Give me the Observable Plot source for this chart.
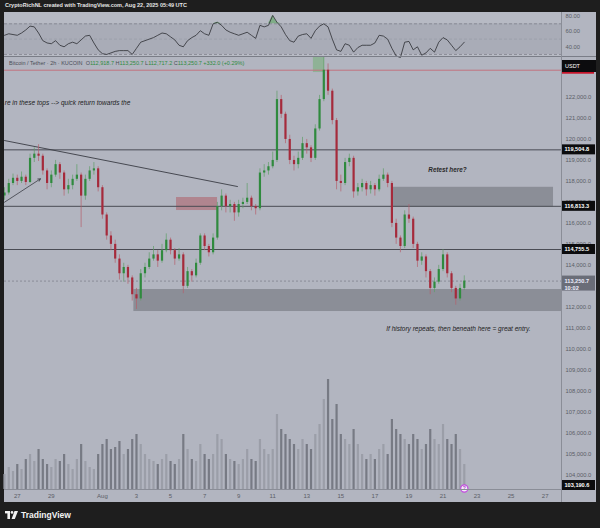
<!DOCTYPE html>
<html><head><meta charset="utf-8">
<script src="https://cdn.jsdelivr.net/npm/d3@7"></script>
<script src="https://cdn.jsdelivr.net/npm/@observablehq/plot@0.6"></script>
<style>
body{margin:0;background:#1e1e1e;width:600px;height:528px;overflow:hidden;font-family:"Liberation Sans","DejaVu Sans",sans-serif;}
#wrap{position:relative;width:600px;height:528px;}
.abs{position:absolute;}
.ln{position:absolute;background:#8a8d97;}
</style></head><body><div id="wrap">
<div class="abs" style="left:5px;top:2px;color:#e6e6e6;font-size:5.5px;font-weight:bold;white-space:nowrap">CryptoRichNL created with TradingView.com, Aug 22, 2025 05:49 UTC</div>
<div class="abs" style="left:4px;top:12px;width:592px;height:490px;background:#b2b5c0"></div>
<div id="rsi" class="abs" style="left:4px;top:12px"></div>
<div id="main" class="abs" style="left:4px;top:57px"></div>
<div id="vol" class="abs" style="left:4px;top:369px"></div>
<div class="ln" style="left:4px;top:56px;width:592px;height:1px;background:#7a7d87"></div>
<div class="ln" style="left:561px;top:12px;width:1px;height:490px"></div>
<div class="ln" style="left:4px;top:489px;width:557px;height:1px"></div>
<div class="abs" id="legend" style="left:9px;top:60px;font-size:5.5px;color:#4a4d56;white-space:nowrap"></div>
<div class="abs" style="left:5px;top:510px;display:flex;align-items:center;gap:3px;color:#f2f2f2;font-weight:bold;font-size:8.5px">
<svg width="13" height="8" viewBox="0 0 13 8"><rect x="0" y="0" width="5" height="2.4" fill="#f2f2f2"/><rect x="2.4" y="0" width="2.6" height="8" fill="#f2f2f2"/><circle cx="7" cy="1.4" r="1.3" fill="#f2f2f2"/><path d="M9.5 0 L13 0 L9.8 8 L6.6 8 Z" fill="#f2f2f2"/></svg>
<span>TradingView</span></div>
</div>
<script>
// ---- data ----
const firstOpen = 117300;
const closes = [117450,117900,118150,118000,118200,117950,119100,119300,119200,118500,
117900,118300,118800,118400,117600,117800,118100,118300,117300,118100,
118500,118600,117700,116400,115400,115000,114300,113600,113900,113400,
112600,112400,113600,113900,114300,114500,114200,114700,115200,114700,
114300,114500,113000,113700,113500,114100,115400,114900,114600,115300,
116800,117300,116800,116900,116500,116900,117000,117200,116800,116700,
118400,118500,118700,119000,121900,121200,120000,119000,118800,119100,
119800,119600,119100,120500,121900,123300,122300,120900,118000,117900,
118900,119100,117500,117700,117900,117600,117800,117600,118100,118300,
117900,116000,115300,114900,116400,116200,115000,114200,114400,113700,
112900,113200,113800,114500,113600,112900,112400,112900,113250.7];
const highs = [117700,118100,118350,118300,118450,118300,119300,119600,119750,119300,
118600,118500,119000,118900,118500,118100,118300,118800,118400,118300,
118700,118900,118700,117800,116500,115600,115200,114500,114100,114000,
113500,112900,113800,114100,114600,114900,114700,115000,115500,115300,
114800,114800,114600,113900,113800,114300,115500,115500,115000,115500,
117000,117600,117400,117100,117000,117100,117200,117900,117300,116900,
118600,118800,118900,119400,122300,122100,121300,120200,119200,119400,
120100,120000,119700,120700,122100,124400,123600,122400,121000,118300,
119100,119300,119200,117900,118100,118000,118000,117900,118300,118600,
118400,118000,116200,115400,116600,116900,116300,115100,114600,114500,
113800,113400,114000,114750,114600,113700,113000,113100,113500];
const lows = [117100,117350,117800,117800,117900,117800,117900,118900,118950,118300,
117600,117700,118200,118100,117300,117400,117600,118000,115800,117100,
118000,118300,117500,116200,115200,114700,114100,113300,113200,113100,
112300,111900,112300,113400,113800,114200,113900,114100,114600,114500,
114000,114200,112650,112900,113200,113400,114000,114700,114400,114500,
115200,116600,116500,116500,116100,116300,116700,116900,116600,116400,
116600,118200,118300,118600,118900,121000,119800,118800,118500,118600,
119000,119300,118900,119000,120400,121800,122100,120700,117600,117500,
117800,118700,117200,117300,117500,117300,117400,117300,117500,118000,
117700,115800,115000,114600,114800,116000,114800,113900,114000,113400,
112600,112700,113100,113700,113400,112700,112100,112300,112800];
const volumes = [15,22,18,25,20,30,35,28,40,30,25,
22,30,28,35,25,20,30,45,28,22,
20,35,45,50,40,42,48,35,40,50,55,
45,35,30,28,25,30,35,28,25,30,55,
40,30,28,45,35,30,35,55,50,35,30,
28,25,30,40,30,28,50,40,35,40,75,
60,55,50,45,40,50,45,40,55,65,90,
110,70,85,55,50,45,60,45,35,30,35,
30,40,45,35,70,60,55,50,45,55,50,
40,45,60,50,45,65,50,45,55,40,25];
const rsiVals = [55,57,56,55,58,62,67,66,58,48,
45,44,48,42,40,44,46,44,49,54,
55,45,36,31,30,32,34,35,35,35,
30,38,46,48,50,52,55,58,57,53,
49,42,40,48,52,55,61,57,55,70,
72,68,62,59,57,55,57,59,55,51,
68,66,68,81,72,66,56,48,46,54,
56,57,51,61,67,70,66,50,36,34,
44,42,33,39,42,42,42,45,55,54,
50,38,28,26,46,47,36,40,29,32,
38,33,46,52,49,42,35,40,46];
const firstCandle = "2025-07-26T06:00Z";
const candleHours = 6;
const xStart = "2025-07-26T06:00Z", xEnd = "2025-08-27T23:00Z";
const priceLow = 103318, priceHigh = 123906;
const rsiLow = 26, rsiHigh = 84.8;
const priceTicks = [104000,105000,106000,107000,108000,109000,110000,111000,112000,114000,115000,116000,117000,118000,119000,120000,121000,122000];
const rsiTicks = [40,60,80];
const tickDates = ["2025-07-27","2025-07-29","2025-08-01","2025-08-03","2025-08-05","2025-08-07","2025-08-09","2025-08-11","2025-08-13","2025-08-15","2025-08-17","2025-08-19","2025-08-21","2025-08-23","2025-08-25","2025-08-27"];
const tickLabels = ["27","29","Aug","3","5","7","9","11","13","15","17","19","21","23","25","27"];
const zoneKinds = ["grey","grey","red","green"];
const zoneStart = ["2025-08-02T20:20Z","2025-08-18T00:45Z","2025-08-05T08:25Z","2025-08-13T09:20Z"];
const zoneEnd = ["2025-08-27T23:00Z","2025-08-27T11:45Z","2025-08-07T18:15Z","2025-08-14T01:00Z"];
const zoneLow = [111800,116780,116613,123190];
const zoneHigh = [112848,117720,117233,124200];
const levels = [119504.8,116813.3,114755.5];
const lastPrice = 113250.7, lastCountdown = "10:02";
const redLine = 123300;
const lowMark = 103190.6;
const trendDates = ["2025-07-26T06:00Z","2025-08-08T22:20Z"], trendPrices = [119949,117757];
const arrowDates = ["2025-07-26T06:00Z","2025-07-28T08:40Z"], arrowPrices = [117009,118124];
const noteTexts = ["re in these tops --> quick return towards the","Retest here?","If history repeats, then beneath here = great entry."];
const noteDates = ["2025-07-26T06:20Z","2025-08-21T06:15Z","2025-08-21T21:40Z"];
const notePrices = [121760,118567,110990];
const legendParts = [["Bitcoin / Tether · 2h · KUCOIN  ","#4a4d56"],["O","#4a4d56"],["112,918.7 ","#2e8b3e"],["H","#4a4d56"],["113,250.7 ","#2e8b3e"],["L","#4a4d56"],["112,717.2 ","#2e8b3e"],["C","#4a4d56"],["113,250.7 ","#2e8b3e"],["+332.0 (+0.29%)","#2e8b3e"]];

// ---- build ----
const UP = "#2f8a3e", DOWN = "#a52a3b";
const t0 = new Date(firstCandle).getTime();
const candles = closes.map((c,i)=>{const open = i===0?firstOpen:closes[i-1];
  return {date:new Date(t0+i*candleHours*3600e3), open, close:c, high:highs[i], low:lows[i], vol:volumes[i], rsi:rsiVals[i], up:c>=open};});
const xDomain = [new Date(xStart), new Date(xEnd)];
const zones = zoneKinds.map((k,i)=>({kind:k, start:new Date(zoneStart[i]), end:new Date(zoneEnd[i]), low:zoneLow[i], high:zoneHigh[i]}));
const trend = trendDates.map((d,i)=>({date:new Date(d), price:trendPrices[i]}));
const arrow = [{x1:new Date(arrowDates[0]), y1:arrowPrices[0], x2:new Date(arrowDates[1]), y2:arrowPrices[1]}];
const notes = noteTexts.map((t,i)=>({text:t, date:new Date(noteDates[i]), price:notePrices[i]}));
const labelMap = new Map(tickDates.map((d,i)=>[new Date(d).getTime(), tickLabels[i]]));
const FONT = "Liberation Sans, DejaVu Sans, sans-serif";

const main = Plot.plot({
  width:592, height:445, marginTop:0, marginBottom:13, marginLeft:0, marginRight:35,
  style:{background:"transparent", fontFamily:FONT, overflow:"visible"},
  x:{type:"utc", domain:xDomain},
  y:{domain:[priceLow, priceHigh]},
  color:{type:"identity"},
  marks:[
    Plot.rect(zones.filter(z=>z.kind==="grey"), {x1:"start", x2:"end", y1:"low", y2:"high", fill:"#8b8e97", clip:true}),
    Plot.rect(zones.filter(z=>z.kind==="red"), {x1:"start", x2:"end", y1:"low", y2:"high", fill:"#b0858f", clip:true}),
    Plot.rect(zones.filter(z=>z.kind==="green"), {x1:"start", x2:"end", y1:"low", y2:"high", fill:"#8fb296", clip:true}),
    Plot.ruleY(levels, {stroke:"#4a4c54", strokeWidth:1}),
    Plot.ruleY([redLine], {stroke:"#c2737e", strokeWidth:1}),
    Plot.ruleY([lastPrice], {stroke:"#80838d", strokeDasharray:"2,2", strokeWidth:0.8}),
    Plot.line(trend, {x:"date", y:"price", stroke:"#3a3c44", strokeWidth:0.9, clip:true}),
    Plot.arrow(arrow, {x1:"x1", y1:"y1", x2:"x2", y2:"y2", stroke:"#3a3c44", strokeWidth:0.8, headLength:5, clip:true}),
    Plot.ruleX(candles, {x:"date", y1:"low", y2:"high", stroke:d=>d.up?"#5f9e68":"#b5606c", strokeOpacity:0.7, strokeWidth:1, clip:true}),
    Plot.ruleX(candles, {x:"date", y1:"open", y2:"close", stroke:d=>d.up?UP:DOWN, strokeWidth:2.2, clip:true}),
    Plot.text(notes.slice(0,1), {x:"date", y:"price", text:"text", textAnchor:"start", fontSize:6.5, fontStyle:"italic", fill:"#222", clip:true}),
    Plot.text(notes.slice(1,2), {x:"date", y:"price", text:"text", fontSize:6.3, fontStyle:"italic", fontWeight:"bold", fill:"#2a2a2a"}),
    Plot.text(notes.slice(2), {x:"date", y:"price", text:"text", fontSize:6.5, fontStyle:"italic", fill:"#222"}),
    Plot.axisY(priceTicks, {anchor:"right", tickSize:0, tickPadding:4, tickFormat:d3.format(",.1f"), fontSize:5.8, color:"#5a5d66"}),
    Plot.axisX(tickDates.map(d=>new Date(d)), {anchor:"bottom", tickSize:0, tickPadding:4, tickFormat:d=>labelMap.get(d.getTime()), fontSize:6, color:"#5a5d66"})
  ]
});
document.getElementById("main").appendChild(main);

// price tags on axis using the plot's y scale
const ySc = main.scale("y");
const svg = d3.select(main);
const g = svg.append("g").attr("font-family", FONT).attr("text-anchor","start");
function tag(yPix, h, bg, lines, fg){
  g.append("rect").attr("x",558).attr("y",yPix-5).attr("width",33).attr("height",h).attr("fill",bg);
  lines.forEach((t,k)=>g.append("text").attr("x",560.5).attr("y",yPix+k*7.5).attr("dy","0.35em")
    .attr("font-size",5.6).attr("font-weight","bold").attr("text-anchor","start").attr("fill",fg).text(t));
}
levels.forEach(v=>tag(ySc.apply(v), 10, "#0c0c0e", [d3.format(",.1f")(v)], "#fff"));
tag(ySc.apply(lastPrice), 15, "#6a6d78", [d3.format(",.1f")(lastPrice), lastCountdown], "#eef");
tag(Math.min(ySc.apply(lowMark), 428), 10, "#0c0c0e", [d3.format(",.1f")(lowMark)], "#fff");
g.append("rect").attr("x",558).attr("y",ySc.apply(redLine)+1.5).attr("width",32).attr("height",2.5).attr("fill","#c8142a");
g.append("rect").attr("x",558).attr("y",3).attr("width",34).attr("height",12).attr("fill","#0c0c0e");
g.append("text").attr("x",561).attr("y",9).attr("dy","0.35em").attr("font-size",5.5).attr("text-anchor","start").attr("fill","#fff").text("USDT");

// RSI panel
const rsiPlot = Plot.plot({
  width:592, height:45, marginTop:0, marginBottom:0, marginLeft:0, marginRight:35,
  style:{background:"transparent", fontFamily:FONT, overflow:"visible"},
  x:{type:"utc", domain:xDomain, axis:null},
  y:{domain:[rsiLow, rsiHigh]},
  marks:[
    Plot.rect([{a:xDomain[0], b:xDomain[1], lo:rsiLow, hi:rsiHigh}], {x1:"a", x2:"b", y1:"lo", y2:"hi", fill:"#b7bac4"}),
    Plot.rect([{a:xDomain[0], b:xDomain[1], lo:30, hi:70}], {x1:"a", x2:"b", y1:"lo", y2:"hi", fill:"#a9acb7"}),
    Plot.ruleY([70,30], {stroke:"#7f828c", strokeDasharray:"3,2", strokeWidth:0.8}),
    Plot.ruleY([50], {stroke:"#969aa4", strokeDasharray:"3,2", strokeWidth:0.6}),
    Plot.areaY(candles, {x:"date", y1:70, y2:d=>Math.max(70,d.rsi), fill:"#5aa55f", fillOpacity:0.6}),
    Plot.line(candles, {x:"date", y:"rsi", stroke:"#2c2d32", strokeWidth:0.8}),
    Plot.axisY(rsiTicks, {anchor:"right", tickSize:0, tickPadding:4, tickFormat:d3.format(".2f"), fontSize:5.8, color:"#5a5d66"})
  ]
});
document.getElementById("rsi").appendChild(rsiPlot);

// Volume overlay
const last = candles[candles.length-1];
const volPlot = Plot.plot({
  width:592, height:120, marginTop:0, marginBottom:0, marginLeft:0, marginRight:35,
  style:{background:"transparent", overflow:"visible", fontFamily:FONT},
  x:{type:"utc", domain:xDomain, axis:null},
  y:{domain:[0,120], axis:null},
  color:{type:"identity"},
  marks:[
    Plot.ruleX(candles, {x:"date", y1:0, y2:"vol", stroke:d=>d.up?"#9b9ea8":"#777a84", strokeWidth:2.2}),
    Plot.dot([last], {x:"date", y:0, dy:-1, r:3.6, fill:"#f3ecf8", stroke:"#c44be0", strokeWidth:1.2}),
    Plot.text([last], {x:"date", y:0, dy:-1, text:()=>"?", fontSize:5, fontWeight:"bold", fill:"#a83cc8"})
  ]
});
document.getElementById("vol").appendChild(volPlot);

// legend
const lg = document.getElementById("legend");
legendParts.forEach(([t,c])=>{const s=document.createElement("span"); s.textContent=t; s.style.color=c; s.style.whiteSpace="pre"; lg.appendChild(s);});
</script></body></html>
